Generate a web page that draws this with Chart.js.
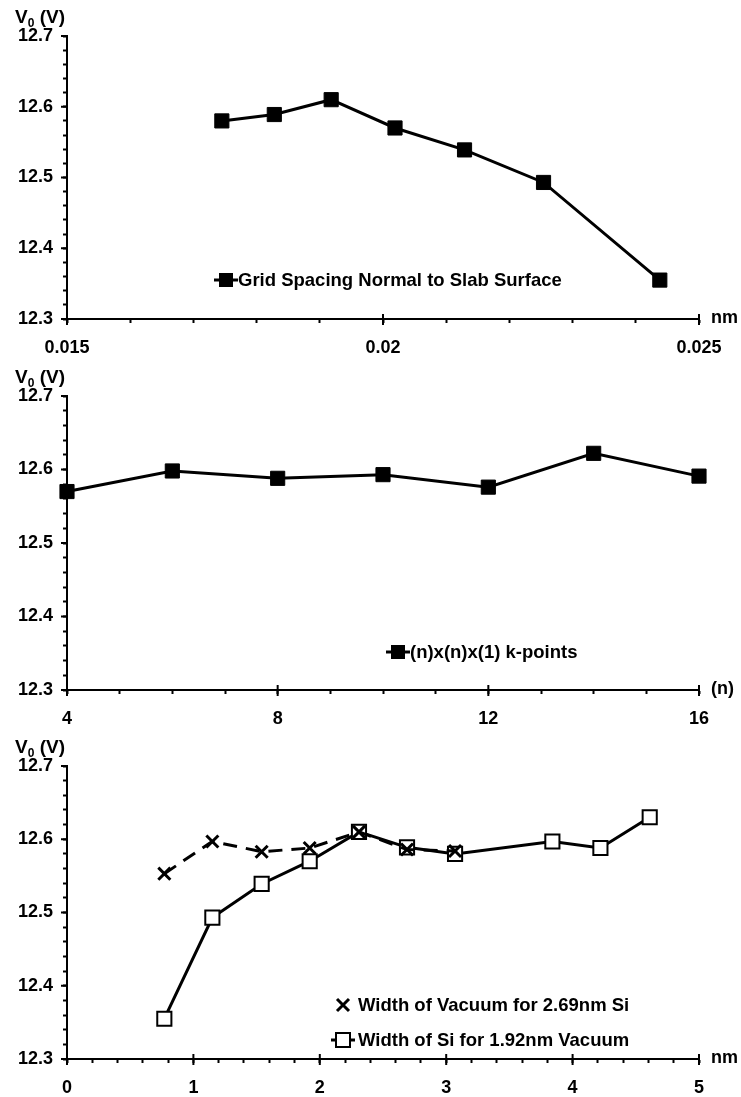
<!DOCTYPE html>
<html>
<head>
<meta charset="utf-8">
<script src="https://cdn.jsdelivr.net/npm/chart.js@4.4.1/dist/chart.umd.min.js"></script>
<style>
  body { margin: 0; background: #fff; width: 741px; height: 1097px; overflow: hidden; }
  .panel { position: absolute; left: 0; width: 741px; }
</style>
</head>
<body>
<div class="panel" style="top:0px"><canvas id="gridChart" width="741" height="360"></canvas></div>
<div class="panel" style="top:360px"><canvas id="kptChart" width="741" height="370"></canvas></div>
<div class="panel" style="top:730px"><canvas id="widthChart" width="741" height="367"></canvas></div>
<script>
// valores
const yMajor = [12.3, 12.4, 12.5, 12.6, 12.7];
const yLabels = ['12.3', '12.4', '12.5', '12.6', '12.7'];

const gridMajor = [0.015, 0.02, 0.025];
const gridLabels = ['0.015', '0.02', '0.025'];
const gridX = [0.01745, 0.01828, 0.01918, 0.02019, 0.02129, 0.02254, 0.02438];
const gridV = [12.580, 12.589, 12.610, 12.570, 12.539, 12.493, 12.355];

const kptMajor = [4, 8, 12, 16];
const kptLabels = ['4', '8', '12', '16'];
const kptN = [4, 6, 8, 10, 12, 14, 16];
const kptV = [12.570, 12.598, 12.588, 12.593, 12.576, 12.622, 12.591];

const widthMajor = [0, 1, 2, 3, 4, 5];
const widthLabels = ['0', '1', '2', '3', '4', '5'];
const vacX = [0.77, 1.15, 1.54, 1.92, 2.31, 2.69, 3.07];
const vacV = [12.553, 12.597, 12.583, 12.588, 12.610, 12.586, 12.584];
const siX = [0.77, 1.15, 1.54, 1.92, 2.31, 2.69, 3.07, 3.84, 4.22, 4.61];
const siV = [12.355, 12.493, 12.539, 12.570, 12.610, 12.589, 12.580, 12.597, 12.588, 12.630];

const FONT = '"Liberation Sans", Arial, sans-serif';

function puntos(xs, ys) {
  return xs.map((x, i) => ({ x: x, y: ys[i] }));
}

function etiqueta(majors, labels) {
  return function(value) {
    for (let i = 0; i < majors.length; i++) {
      if (Math.abs(value - majors[i]) < 1e-9 * Math.max(1, Math.abs(value))) return labels[i];
    }
    return '';
  };
}

function marcador(ctx, estilo, x, y, r) {
  ctx.save();
  ctx.setLineDash([]);
  ctx.strokeStyle = '#000';
  ctx.fillStyle = '#000';
  ctx.lineWidth = 3;
  if (estilo === 'crossRot') {
    ctx.beginPath();
    ctx.moveTo(x - r, y - r); ctx.lineTo(x + r, y + r);
    ctx.moveTo(x + r, y - r); ctx.lineTo(x - r, y + r);
    ctx.stroke();
  } else if (estilo === 'open') {
    ctx.lineWidth = 2;
    ctx.fillStyle = '#fff';
    ctx.fillRect(x - r, y - r, 2 * r, 2 * r);
    ctx.strokeRect(x - r, y - r, 2 * r, 2 * r);
  } else {
    ctx.fillRect(x - r, y - r, 2 * r, 2 * r);
  }
  ctx.restore();
}

// plugin para etiquetas de ejes, leyenda interna y marcas mayores
const decoracion = {
  id: 'decor',
  afterDraw(chart, args, opts) {
    const ctx = chart.ctx;
    const area = chart.chartArea;
    ctx.save();
    ctx.fillStyle = '#000';
    ctx.strokeStyle = '#000';

    // marcas mayores un poco mas largas
    ctx.lineWidth = 2;
    const sx = chart.scales.x, sy = chart.scales.y;
    opts.xMajor.forEach(v => {
      const px = sx.getPixelForValue(v);
      ctx.beginPath(); ctx.moveTo(px, area.bottom - 5); ctx.lineTo(px, area.bottom + 6); ctx.stroke();
    });
    yMajor.forEach(v => {
      const py = sy.getPixelForValue(v);
      ctx.beginPath(); ctx.moveTo(area.left - 6, py); ctx.lineTo(area.left, py); ctx.stroke();
    });

    // titulo del eje y: V0 (V)
    ctx.textBaseline = 'alphabetic';
    ctx.textAlign = 'left';
    let x = 15, y = area.top - 13;
    ctx.font = 'bold 19px ' + FONT;
    ctx.fillText('V', x, y);
    x += ctx.measureText('V').width;
    ctx.font = 'bold 12px ' + FONT;
    ctx.fillText('0', x, y + 4);
    x += ctx.measureText('0').width;
    ctx.font = 'bold 19px ' + FONT;
    ctx.fillText(' (V)', x, y);

    // unidad del eje x
    ctx.textBaseline = 'middle';
    ctx.font = 'bold 18px ' + FONT;
    ctx.fillText(opts.unit, area.right + 12, area.bottom - 1);

    // leyenda
    const lg = opts.legend;
    chart.data.datasets.forEach((ds, i) => {
      const ly = lg.y + i * lg.gap;
      if (!ds.borderDash) {
        ctx.save();
        ctx.lineWidth = 3;
        ctx.beginPath(); ctx.moveTo(lg.x, ly); ctx.lineTo(lg.x + 24, ly); ctx.stroke();
        ctx.restore();
      }
      marcador(ctx, ds.marca, lg.x + 12, ly, ds.marca === 'crossRot' ? 6 : 7);
      ctx.fillStyle = '#000';
      ctx.font = 'bold 18.5px ' + FONT;
      ctx.textAlign = 'left';
      ctx.fillText(ds.label, lg.x + lg.textOffset, ly + 1);
    });
    ctx.restore();
  }
};

function crearGrafico(id, datasets, xMin, xMax, xStep, xMajor, xLabels, unidad, leyenda, altoEjeX) {
  const ctx = document.getElementById(id).getContext('2d');
  return new Chart(ctx, {
    type: 'scatter',
    data: { datasets: datasets },
    options: {
      responsive: false,
      animation: false,
      layout: { padding: { top: 36, right: 42, left: 0, bottom: 0 } },
      plugins: {
        legend: { display: false },
        tooltip: { enabled: false },
        decor: { unit: unidad, legend: leyenda, xMajor: xMajor }
      },
      scales: {
        x: {
          type: 'linear',
          min: xMin, max: xMax,
          afterFit: s => { s.height = altoEjeX; },
          border: { display: true, color: '#000', width: 2 },
          grid: { drawOnChartArea: false, drawTicks: true, tickLength: 4, tickWidth: 2, tickColor: '#000' },
          ticks: {
            stepSize: xStep, autoSkip: false, maxRotation: 0, padding: 14,
            color: '#000', font: { family: FONT, size: 18, weight: 'bold' },
            callback: etiqueta(xMajor, xLabels)
          }
        },
        y: {
          min: 12.3, max: 12.7,
          afterFit: s => { s.width = 67; },
          border: { display: true, color: '#000', width: 2 },
          grid: { drawOnChartArea: false, drawTicks: true, tickLength: 4, tickWidth: 2, tickColor: '#000' },
          ticks: {
            stepSize: 0.02, autoSkip: false, padding: 10,
            color: '#000', font: { family: FONT, size: 18, weight: 'bold' },
            callback: etiqueta(yMajor, yLabels)
          }
        }
      }
    },
    plugins: [decoracion]
  });
}

window.onload = function() {
  crearGrafico('gridChart', [{
    label: 'Grid Spacing Normal to Slab Surface',
    marca: 'rect',
    data: puntos(gridX, gridV),
    showLine: true, clip: false,
    borderColor: '#000', borderWidth: 3,
    pointStyle: 'rect', pointRadius: 10, pointBackgroundColor: '#000', pointBorderColor: '#000', pointBorderWidth: 1
  }], 0.015, 0.025, 0.001, gridMajor, gridLabels, 'nm', { x: 214, y: 280, gap: 0, textOffset: 24 }, 41);

  crearGrafico('kptChart', [{
    label: '(n)x(n)x(1) k-points',
    marca: 'rect',
    data: puntos(kptN, kptV),
    showLine: true, clip: false,
    borderColor: '#000', borderWidth: 3,
    pointStyle: 'rect', pointRadius: 10, pointBackgroundColor: '#000', pointBorderColor: '#000', pointBorderWidth: 1
  }], 4, 16, 1, kptMajor, kptLabels, '(n)', { x: 386, y: 292, gap: 0, textOffset: 24 }, 40);

  crearGrafico('widthChart', [{
    label: 'Width of Vacuum for 2.69nm Si',
    marca: 'crossRot',
    data: puntos(vacX, vacV),
    showLine: true, clip: false,
    borderColor: '#000', borderWidth: 3, borderDash: [14, 9],
    pointStyle: 'crossRot', pointRadius: 8.5, pointBorderColor: '#000', pointBorderWidth: 3
  }, {
    label: 'Width of Si for 1.92nm Vacuum',
    marca: 'open',
    data: puntos(siX, siV),
    showLine: true, clip: false,
    borderColor: '#000', borderWidth: 3,
    pointStyle: 'rect', pointRadius: 10, pointBackgroundColor: '#fff', pointBorderColor: '#000', pointBorderWidth: 2
  }], 0, 5, 0.2, widthMajor, widthLabels, 'nm', { x: 331, y: 275, gap: 35, textOffset: 27 }, 38);
};
</script>
</body>
</html>
